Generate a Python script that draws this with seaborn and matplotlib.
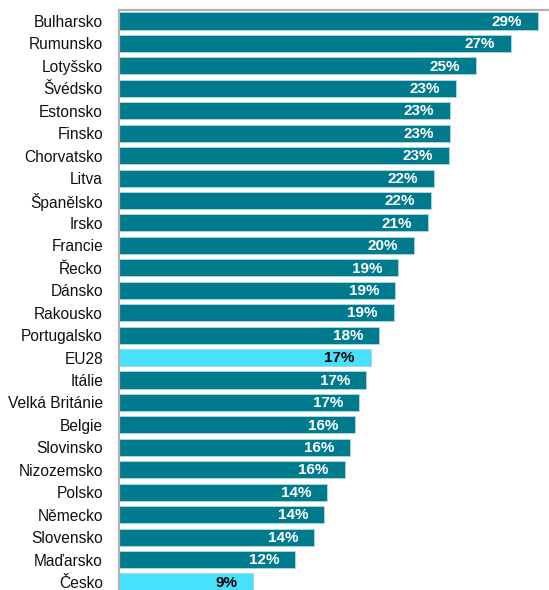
import matplotlib
matplotlib.use("Agg")
import matplotlib.pyplot as plt
import seaborn as sns
import pandas as pd

countries = ["Bulharsko", "Rumunsko", "Lotyšsko", "Švédsko", "Estonsko", "Finsko",
             "Chorvatsko", "Litva", "Španělsko", "Irsko", "Francie", "Řecko", "Dánsko",
             "Rakousko", "Portugalsko", "EU28", "Itálie", "Velká Británie", "Belgie",
             "Slovinsko", "Nizozemsko", "Polsko", "Německo", "Slovensko", "Maďarsko", "Česko"]
values = [29.0, 27.1, 24.7, 23.3, 22.9, 22.9, 22.8, 21.8, 21.6, 21.4, 20.4, 19.3, 19.1,
          19.0, 18.0, 17.4, 17.1, 16.6, 16.3, 16.0, 15.6, 14.4, 14.2, 13.5, 12.2, 9.3]
highlight = ["EU28", "Česko"]

TEAL = "#007B8D"
CYAN = "#47E1FD"

df = pd.DataFrame({"country": countries, "value": values})
palette = {c: (CYAN if c in highlight else TEAL) for c in countries}

sns.set_style("white")
plt.rcParams["font.family"] = ["Liberation Sans", "DejaVu Sans"]

W, H = 549, 590
left_px, width_px = 119, 440
fig = plt.figure(figsize=(W / 100, H / 100), dpi=100)
ax = fig.add_axes([left_px / W, -3.2 / H, width_px / W, 583.2 / H])

sns.barplot(data=df, x="value", y="country", hue="country", palette=palette,
            legend=False, orient="h", width=0.76, ax=ax,
            edgecolor="#a8d6de", linewidth=0.7, saturation=1)

ax.set_xlim(0, width_px / 14.46)
ax.set_ylim(25.5, -0.49)
ax.set_xlabel("")
ax.set_ylabel("")
ax.set_xticks([])
ax.tick_params(axis="y", length=0, pad=11.5, labelsize=11.2, labelcolor="#111111")

for s in ["right", "bottom"]:
    ax.spines[s].set_visible(False)
for s in ["top", "left"]:
    ax.spines[s].set_color("#b3b3b3")
    ax.spines[s].set_linewidth(1.6)

for i, (c, v) in enumerate(zip(countries, values)):
    col = "black" if c in highlight else "white"
    ax.annotate(f"{v:.0f}%", xy=(v, i), xytext=(-11.5, -0.5), textcoords="offset points",
                ha="right", va="center", fontsize=11, fontweight="bold", color=col)

fig.savefig("out.png", dpi=100)
